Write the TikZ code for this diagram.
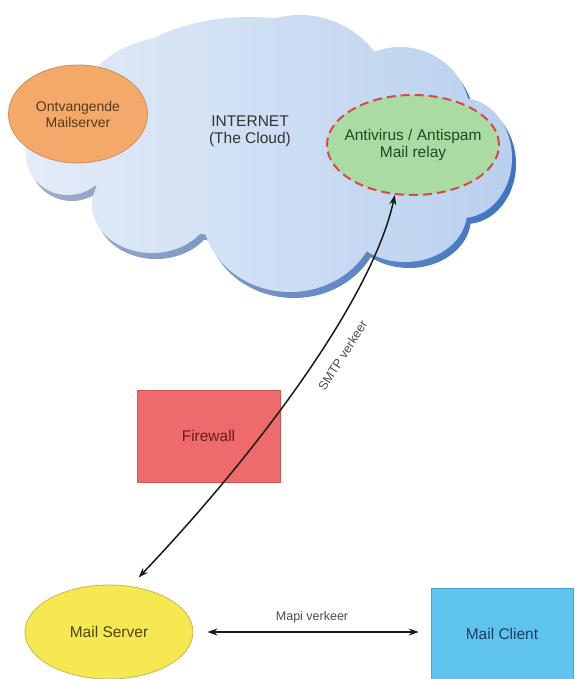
\documentclass[tikz,border=0pt]{standalone}
\usepackage{fontspec}
\setmainfont{Liberation Sans}
\usetikzlibrary{shapes.geometric,arrows.meta}
\definecolor{cloudL}{HTML}{E3ECF8}
\definecolor{cloudR}{HTML}{B9D0EE}
\definecolor{shadL}{HTML}{A3ACCB}
\definecolor{shadR}{HTML}{3E74C0}
\definecolor{orangeF}{HTML}{F3A96A}
\definecolor{orangeD}{HTML}{D48C52}
\definecolor{orangeT}{HTML}{5A3A1A}
\definecolor{greenF}{HTML}{A9DBA3}
\definecolor{greenT}{HTML}{1F4A22}
\definecolor{dashR}{HTML}{D84848}
\definecolor{fireF}{HTML}{EF6A6A}
\definecolor{fireD}{HTML}{D45454}
\definecolor{fireT}{HTML}{6B1B1B}
\definecolor{yelF}{HTML}{F5E850}
\definecolor{yelD}{HTML}{C9B846}
\definecolor{yelT}{HTML}{4A4612}
\definecolor{blueF}{HTML}{5EC4EE}
\definecolor{blueD}{HTML}{46A6D6}
\definecolor{blueT}{HTML}{1E3A6A}
\tikzset{
  ovalnode/.style={ellipse, align=center, inner sep=-20pt},
  boxnode/.style={rectangle, align=center, inner sep=0pt},
  conn/.style={line width=1.5pt, draw=black!90, {Stealth[length=10pt,width=7pt]}-{Stealth[length=10pt,width=7pt]}},
  lbl/.style={font=\fontsize{12.5}{14}\selectfont, text=black!70},
}
\begin{document}
\begin{tikzpicture}[x=1pt,y=-1pt,font=\fontsize{15.5}{17}\selectfont]
\useasboundingbox (0,0) rectangle (574,679);
\fill[white] (0,0) rectangle (574,679);
% cloud shadow
\shade[left color=shadL, right color=shadR, shift={(4,6)}]
  (270,150) ellipse [x radius=190pt, y radius=90pt]
  (250,95) ellipse [x radius=140pt, y radius=78pt]
  (300,112) ellipse [x radius=95pt, y radius=97pt]
  (185,105) ellipse [x radius=105pt, y radius=70pt]
  (400,115) ellipse [x radius=70pt, y radius=68pt]
  (462,158) ellipse [x radius=50pt, y radius=60pt]
  (405,212) ellipse [x radius=62pt, y radius=50pt]
  (290,212) ellipse [x radius=88pt, y radius=80pt]
  (152,205) ellipse [x radius=60pt, y radius=48pt]
  (68,155) ellipse [x radius=42pt, y radius=40pt];
% cloud body
\shade[left color=cloudL, right color=cloudR]
  (270,150) ellipse [x radius=190pt, y radius=90pt]
  (250,95) ellipse [x radius=140pt, y radius=78pt]
  (300,112) ellipse [x radius=95pt, y radius=97pt]
  (185,105) ellipse [x radius=105pt, y radius=70pt]
  (400,115) ellipse [x radius=70pt, y radius=68pt]
  (462,158) ellipse [x radius=50pt, y radius=60pt]
  (405,212) ellipse [x radius=62pt, y radius=50pt]
  (290,212) ellipse [x radius=88pt, y radius=80pt]
  (152,205) ellipse [x radius=60pt, y radius=48pt]
  (68,155) ellipse [x radius=42pt, y radius=40pt];
\node[align=center, text=black!80] (internet) at (250,131) {INTERNET\\(The Cloud)};
\node[ovalnode, fill=orangeF, draw=orangeD, line width=0.8pt, text=orangeT,
      font=\fontsize{14}{16}\selectfont,
      minimum width=139pt, minimum height=98pt] (ont) at (78,114) {Ontvangende\\Mailserver};
\node[ovalnode, fill=greenF, draw=dashR, line width=2pt, dash pattern=on 9pt off 5pt, text=greenT,
      minimum width=172pt, minimum height=100pt] (relay) at (413,145) {Antivirus / Antispam\\Mail relay};
\node[boxnode, fill=fireF, draw=fireD, line width=0.6pt, text=fireT,
      minimum width=143pt, minimum height=92pt] (fw) at (208.5,436) {Firewall};
\node[ovalnode, fill=yelF, draw=yelD, line width=0.8pt, text=yelT,
      minimum width=168pt, minimum height=94pt] (ms) at (109,632) {Mail Server};
\node[boxnode, fill=blueF, draw=blueD, line width=0.6pt, text=blueT,
      minimum width=142pt, minimum height=91pt] (mc) at (502,633.5) {Mail Client};
\draw[conn, shorten <=12pt] (ms.65) .. controls (255,455) and (372,300) .. (relay.-110)
  node[lbl, pos=0.59, sloped, below=12pt] {SMTP verkeer};
\draw[conn, shorten <=14pt, shorten >=12pt] (ms.east) -- (ms.east -| mc.west)
  node[lbl, midway, above=5pt] {Mapi verkeer};
\end{tikzpicture}
\end{document}
